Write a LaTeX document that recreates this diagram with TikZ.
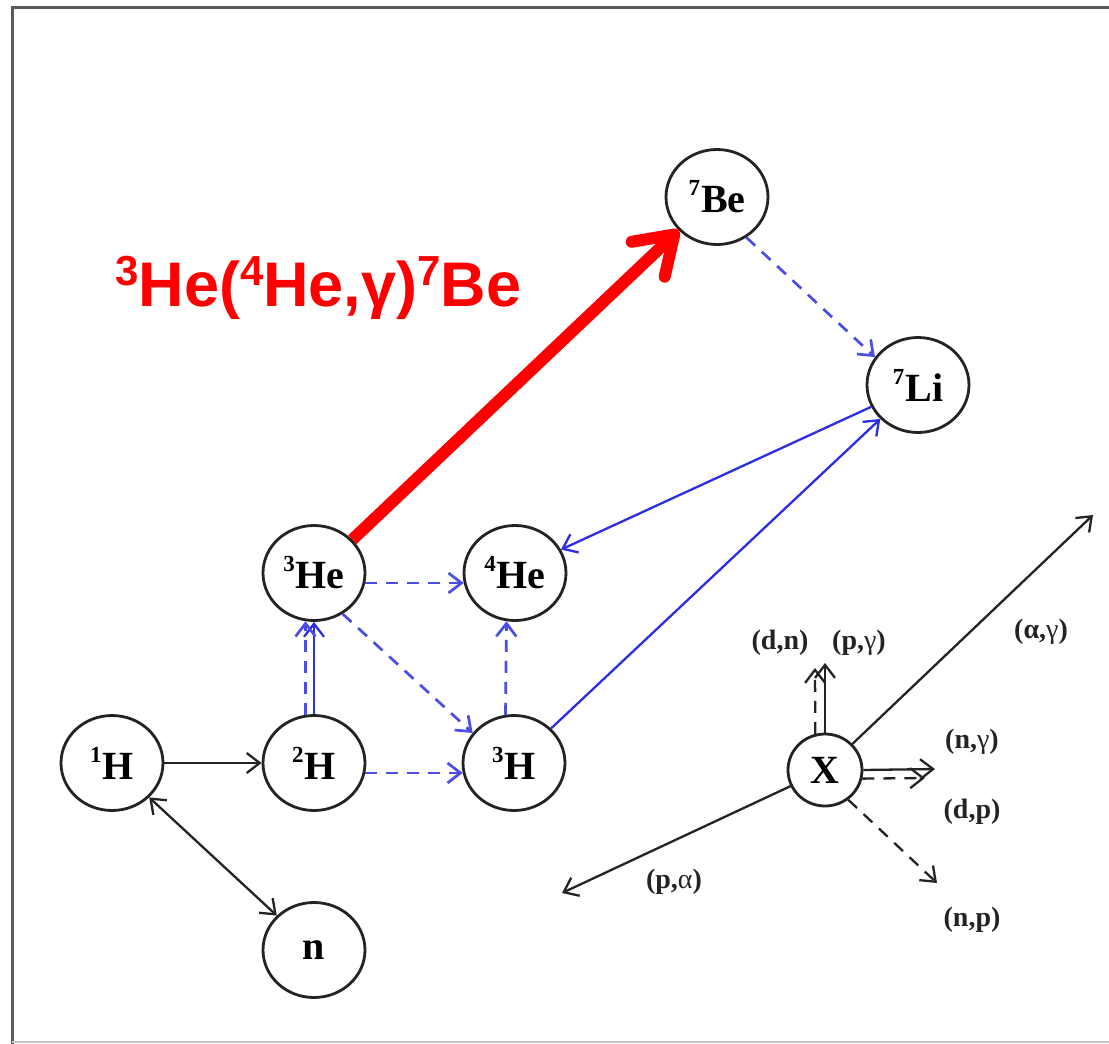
\documentclass[tikz,border=0pt]{standalone}
\usepackage{fontspec}
\setmainfont{Liberation Serif}
\newfontfamily\titlefont{Liberation Sans}
\usetikzlibrary{arrows.meta,shapes.geometric}

\definecolor{rxblue}{RGB}{45,45,225}
\definecolor{rxred}{RGB}{255,0,0}
\definecolor{ringgray}{RGB}{35,35,35}
\definecolor{framegray}{RGB}{90,90,90}

% isotope label: small raised mass number followed by the element symbol
\newcommand\nuc[2]{\raisebox{17pt}{\fontsize{23}{23}\selectfont #1}\kern1pt #2}
\newcommand\tsup[1]{\raisebox{21pt}{\fontsize{42}{42}\selectfont #1}}

\begin{document}
\begin{tikzpicture}[x=1pt,y=-1pt,
  nucl/.style={ellipse, draw=ringgray, line width=2.8pt, minimum width=102pt,
    minimum height=95pt, inner sep=0pt, fill=white,
    font=\fontsize{40}{42}\selectfont\bfseries},
  tiptip/.style={-{Straight Barb[length=13pt,width=20pt]}},
  bothtip/.style={{Straight Barb[length=13pt,width=20pt]}-{Straight Barb[length=13pt,width=20pt]}},
  blk/.style={draw=ringgray, line width=2.3pt},
  blkdash/.style={draw=ringgray, line width=2.3pt, dash pattern=on 12pt off 9pt},
  blueline/.style={draw=rxblue, line width=2.3pt},
  bluedash/.style={draw=rxblue!85!white, line width=2.7pt, dash pattern=on 12pt off 9pt},
  redarrow/.style={draw=rxred, line width=12pt,
    -{Straight Barb[length=36pt,width=48pt,round]}},
  rxlabel/.style={inner sep=0pt, text=ringgray, font=\fontsize{28}{30}\selectfont\bfseries},
]
\useasboundingbox (0,0) rectangle (1109,1044);

% frame
\draw[line width=3pt, framegray] (12,1044) -- (12,7) -- (1109,7);
\draw[line width=2pt, gray!45] (12,1042) -- (1109,1042);

% nuclei
\node[nucl] (H1)  at (112,763) {\nuc{1}{H}};
\node[nucl] (H2)  at (314,763) {\nuc{2}{H}};
\node[nucl] (H3)  at (514,763) {\nuc{3}{H}};
\node[nucl] (He3) at (314,573) {\nuc{3}{He}};
\node[nucl] (He4) at (515,573) {\nuc{4}{He}};
\node[nucl] (n)   at (314,950) {n};
\node[nucl] (Be7) at (717,197) {\nuc{7}{Be}};
\node[nucl] (Li7) at (918,385) {\nuc{7}{Li}};

% reaction title
\node[anchor=base west, inner sep=0pt, text=rxred,
  font=\titlefont\fontsize{63}{66}\selectfont\bfseries] (title) at (115,306)
  {\tsup{3}He(\tsup{4}He,γ)\tsup{7}Be};

% reaction links
\draw[blk, tiptip] (H1) -- (H2);
\draw[blk, bothtip] (H1) -- (n);
\draw[bluedash, tiptip] (H2.-11) -- (H3.191);
\draw[blueline, tiptip] (H2) -- (He3);
\draw[bluedash, tiptip] (H2.100) -- (He3.260);
\draw[bluedash, tiptip] (He3.-11) -- (He4.191);
\draw[bluedash, tiptip] (He3.-55) -- (H3.144);
\draw[bluedash, tiptip] (H3.100) -- (He4.260);
\draw[blueline, tiptip] (H3.43) -- (Li7.222);
\draw[blueline, tiptip] (Li7.205) -- (He4.27);
\draw[bluedash, tiptip] (Be7.-54) -- (Li7.147);
\draw[redarrow] (He3.41) -- (Be7.221);

% key: reaction directions from a target X
\node[nucl, minimum width=74pt, minimum height=72pt] (X) at (825,770) {X};
\coordinate (agTip) at (1093,515);
\coordinate (pgTip) at (825,663);
\coordinate (dnTip) at (815,668);
\coordinate (ngTip) at (935,769);
\coordinate (dpTip) at (925,778);
\coordinate (npTip) at (937,883);
\coordinate (paTip) at (562,893);
\draw[blk, tiptip] (X) -- (agTip);
\draw[blk, tiptip] (X.north) -- (pgTip);
\draw[blkdash, tiptip] (X.105) -- (dnTip);
\draw[blk, tiptip] (X.east) -- (ngTip);
\draw[blkdash, tiptip] (X.-13) -- (dpTip);
\draw[blkdash, tiptip] (X.-52) -- (npTip);
\draw[blk, tiptip] (X) -- (paTip);

\node[rxlabel] (lag) at (1041,632) {(α,{\mdseries γ})};
\node[rxlabel] (ldn) at (780,643) {(d,n)};
\node[rxlabel] (lpg) at (859,643) {(p,{\mdseries γ})};
\node[rxlabel] (lng) at (972,742) {(n,{\mdseries γ})};
\node[rxlabel] (ldp) at (972,812) {(d,p)};
\node[rxlabel] (lpa) at (674,882) {(p,{\mdseries α})};
\node[rxlabel] (lnp) at (972,920) {(n,p)};
\end{tikzpicture}
\end{document}
